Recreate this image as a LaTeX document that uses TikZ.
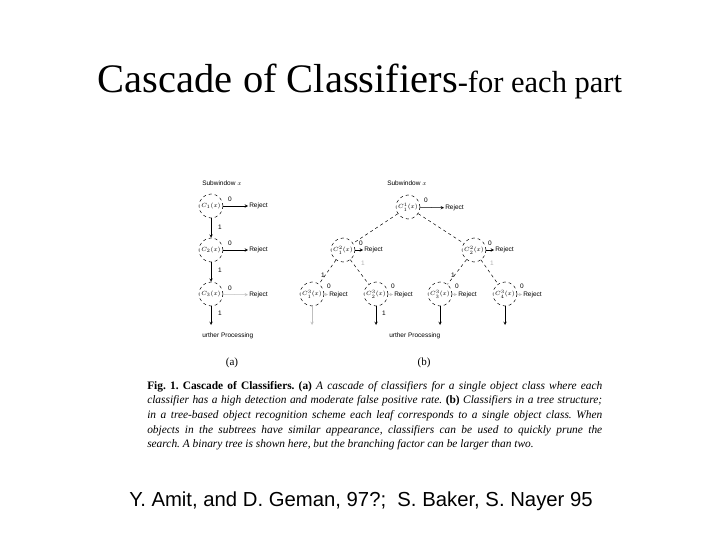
\documentclass[tikz,border=0pt]{standalone}
\usepackage{fontspec}
\setmainfont{Liberation Serif}
\setsansfont{Liberation Sans}
\usetikzlibrary{positioning}
\tikzset{
  clf/.style={draw, dashed, circle, minimum size=24pt, inner sep=0pt, font=\fontsize{6.3}{7}\selectfont},
  tag/.style={font=\sffamily\fontsize{6.5}{7}\selectfont, inner sep=1pt},
  faint/.style={draw=black!25},
}
\begin{document}
\begin{tikzpicture}[x=1pt, y=-1pt, >=stealth, line width=0.5pt]
  \useasboundingbox (0,0) rectangle (720,540);
  \node[anchor=base] (title) at (360,93) {\fontsize{40.5}{44}\selectfont Cascade of Classifiers\fontsize{30.5}{32}\selectfont -for each part};

  % (a) cascade
  \node[tag, anchor=base west] (suba) at (201,186) {Subwindow $x$};
  \node[clf] (a1) at (211,206) {$C_1(x)$};
  \node[clf] (a2) at (211,250) {$C_2(x)$};
  \node[clf] (a3) at (211,294) {$C_3(x)$};
  \node[tag, anchor=west] (ra1) at (248,206) {Reject};
  \node[tag, anchor=west] (ra2) at (248,250) {Reject};
  \node[tag, anchor=west] (ra3) at (248,295) {Reject};
  \draw[->] (a1) -- (ra1);
  \draw[->] (a2) -- (ra2);
  \draw[faint, ->] (a3) -- (ra3);
  \node[tag] at (230,199) {0};
  \node[tag] at (230,243) {0};
  \node[tag] at (230,288) {0};
  \draw[->] (a1) -- (a2);
  \draw[->] (a2) -- (a3);
  \coordinate (fa) at (211,325);
  \draw[->] (a3) -- (fa);
  \node[tag] at (220,227) {1};
  \node[tag] at (220,270) {1};
  \node[tag] at (220,313) {1};
  \node[tag, anchor=base west] (furta) at (201,337) {urther Processing};
  \node[font=\fontsize{11}{12}\selectfont] (capa) at (232,363) {(a)};

  % (b) tree
  \node[tag, anchor=base west] (subb) at (386,186) {Subwindow $x$};
  \node[clf] (b0) at (408,207) {$C^1_1(x)$};
  \node[clf] (b1) at (343,250) {$C^2_1(x)$};
  \node[clf] (b2) at (474,250) {$C^2_2(x)$};
  \node[clf] (l1) at (312,294) {$C^3_1(x)$};
  \node[clf] (l2) at (376,294) {$C^3_2(x)$};
  \node[clf] (l3) at (440,294) {$C^3_3(x)$};
  \node[clf] (l4) at (505,294) {$C^3_4(x)$};
  \draw[dashed] (b0) -- (b1);
  \draw[dashed] (b0) -- (b2);
  \draw[dashed] (b1) -- (l1);
  \draw[dashed] (b1) -- (l2);
  \draw[dashed] (b2) -- (l3);
  \draw[dashed] (b2) -- (l4);
  \node[tag, anchor=west] (rb0) at (444,208) {Reject};
  \node[tag, anchor=west] (rb1) at (363,250) {Reject};
  \node[tag, anchor=west] (rb2) at (494,250) {Reject};
  \node[tag, anchor=west] (rl1) at (328,295) {Reject};
  \node[tag, anchor=west] (rl2) at (393,295) {Reject};
  \node[tag, anchor=west] (rl3) at (457,295) {Reject};
  \node[tag, anchor=west] (rl4) at (522,295) {Reject};
  \draw[->] (b0) -- (rb0);
  \draw[->] (b1) -- (rb1);
  \draw[->] (b2) -- (rb2);
  \foreach \i in {1,...,4} {
    \draw[faint, ->] (l\i) -- (rl\i);
  }
  \node[tag] at (426,200) {0};
  \node[tag] at (361,243) {0};
  \node[tag] at (490,243) {0};
  \node[tag] at (329,286) {0};
  \node[tag] at (393,286) {0};
  \node[tag] at (457,286) {0};
  \node[tag] at (522,286) {0};
  \node[tag] at (323,275) {1};
  \node[tag] at (453,275) {1};
  \node[tag, black!30] at (363,263) {1};
  \node[tag, black!30] at (492,263) {1};
  \foreach \i/\x in {1/312,2/376,3/440,4/505} {
    \coordinate (fb\i) at (\x,325);
  }
  \draw[faint, ->] (l1) -- (fb1);
  \draw[->] (l2) -- (fb2);
  \draw[->] (l3) -- (fb3);
  \draw[->] (l4) -- (fb4);
  \node[tag] at (384,313) {1};
  \node[tag, anchor=base west] (furtb) at (388,337) {urther Processing};
  \node[font=\fontsize{11}{12}\selectfont] (capb) at (424,363) {(b)};

  % figure caption
  \node[anchor=north west, inner sep=0pt] (cap) at (147,381) {\parbox{455pt}{\fontsize{11.4}{14.6}\selectfont\itshape\frenchspacing
    \textbf{\upshape Fig. 1. Cascade of Classifiers.} \textbf{\upshape (a)} A cascade of classifiers for a single object class where each\linebreak
    classifier has a high detection and moderate false positive rate. \textbf{\upshape (b)} Classifiers in a tree structure;\linebreak
    in a tree-based object recognition scheme each leaf corresponds to a single object class. When\linebreak
    objects in the subtrees have similar appearance, classifiers can be used to quickly prune the\linebreak
    search. A binary tree is shown here, but the branching factor can be larger than two.}};

  \node[anchor=base] (cite) at (361,506) {\sffamily\fontsize{20.3}{23}\selectfont Y. Amit, and D. Geman, 97?;\ \ S. Baker, S. Nayer 95};
\end{tikzpicture}
\end{document}
